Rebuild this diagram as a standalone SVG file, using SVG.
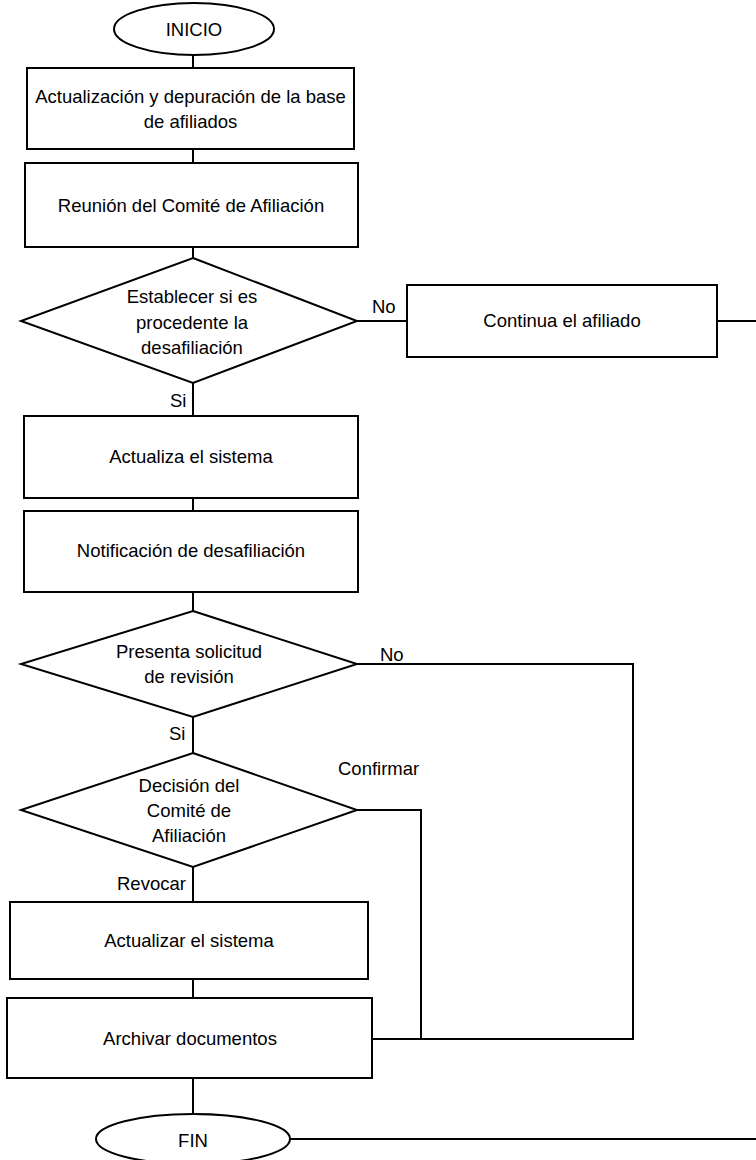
<svg xmlns="http://www.w3.org/2000/svg" width="756" height="1160" viewBox="0 0 756 1160">
<style>
.s{fill:#fff;stroke:#000;stroke-width:2}
.c{fill:none;stroke:#000;stroke-width:2}
text{font-family:"Liberation Sans",Arial,sans-serif;font-size:18.5px;fill:#000}
.m{text-anchor:middle}
</style>
<rect width="756" height="1160" fill="#fff"/>
<g id="connectors">
<path class="c" d="M193,55V68M193,149V163M193,247V258M193,383V416M193,498V511M193,592V611M193,717V753M193,867V902M193,979V998M193,1078V1114"/>
<path class="c" d="M357,321H407M717,321H756"/>
<path class="c" d="M357,664H633V1039H372"/>
<path class="c" d="M357,810H421V1039"/>
<path class="c" d="M290,1139H756"/>
<text x="372" y="313">No</text>
<text x="170" y="407">Si</text>
<text x="380" y="661">No</text>
<text x="169" y="740">Si</text>
<text x="338" y="775">Confirmar</text>
<text x="117" y="890">Revocar</text>
</g>
<g id="inicio"><ellipse class="s" cx="194" cy="29" rx="80" ry="26"/><text class="m" x="194" y="36">INICIO</text></g>
<g id="actualizacion"><rect class="s" x="27" y="68" width="327" height="81"/><text class="m" x="190.5" y="103">Actualización y depuración de la base</text><text class="m" x="190.5" y="128">de afiliados</text></g>
<g id="reunion"><rect class="s" x="25" y="163" width="333" height="84"/><text class="m" x="191" y="212">Reunión del Comité de Afiliación</text></g>
<g id="establecer"><polygon class="s" points="193,258 357,321 193,383 21,321"/><text class="m" x="192" y="303">Establecer si es</text><text class="m" x="192" y="329">procedente la</text><text class="m" x="192" y="354">desafiliación</text></g>
<g id="continua"><rect class="s" x="407" y="285" width="310" height="72"/><text class="m" x="562" y="327">Continua el afiliado</text></g>
<g id="actualiza"><rect class="s" x="24" y="416" width="334" height="82"/><text class="m" x="191" y="463">Actualiza el sistema</text></g>
<g id="notificacion"><rect class="s" x="24" y="511" width="334" height="81"/><text class="m" x="191" y="557">Notificación de desafiliación</text></g>
<g id="presenta"><polygon class="s" points="193,611 357,664 193,717 21,664"/><text class="m" x="189" y="658">Presenta solicitud</text><text class="m" x="189" y="683">de revisión</text></g>
<g id="decision"><polygon class="s" points="193,753 357,810 193,867 21,810"/><text class="m" x="189" y="792">Decisión del</text><text class="m" x="189" y="817">Comité de</text><text class="m" x="189" y="842">Afiliación</text></g>
<g id="actualizar"><rect class="s" x="10" y="902" width="358" height="77"/><text class="m" x="189" y="947">Actualizar el sistema</text></g>
<g id="archivar"><rect class="s" x="7" y="998" width="365" height="80"/><text class="m" x="190" y="1045">Archivar documentos</text></g>
<g id="fin"><ellipse class="s" cx="193" cy="1139" rx="97" ry="25"/><text class="m" x="193" y="1147">FIN</text></g>
</svg>
